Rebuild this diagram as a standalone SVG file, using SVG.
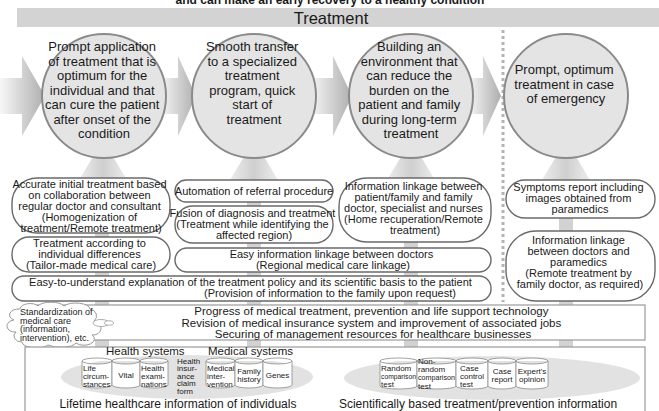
<svg xmlns="http://www.w3.org/2000/svg" width="659" height="411" viewBox="0 0 659 411">
  <style>
    text { font-family: "Liberation Sans", Arial, sans-serif; fill: #1a1a1a; }
    .ct { font-size: 13px; text-anchor: middle; }
    .bt { font-size: 11px; text-anchor: middle; }
    .rt { font-size: 11.5px; text-anchor: middle; }
    .cyl { font-size: 8px; }
    .circle { fill: #e4e4e4; stroke: #8a8a8a; stroke-width: 2; }
    .box { fill: #ffffff; stroke: #6a6a6a; stroke-width: 1.4; }
    .shaft { fill: #d2d2d2; }
    .can { fill: #ffffff; stroke: #8a8a8a; stroke-width: 0.8; }
  </style>
  <defs>
    <linearGradient id="flow" x1="0" y1="0" x2="1" y2="0">
      <stop offset="0" stop-color="#f7f7f7"/>
      <stop offset="1" stop-color="#aeaeae"/>
    </linearGradient>
    <linearGradient id="upHead" x1="0" y1="0" x2="1" y2="0">
      <stop offset="0" stop-color="#ececec"/>
      <stop offset="0.5" stop-color="#cfcfcf"/>
      <stop offset="1" stop-color="#ececec"/>
    </linearGradient>
  </defs>

  <!-- heading line (runs off the top edge) -->
  <text x="330" y="4" font-size="12" font-weight="bold" text-anchor="middle">and can make an early recovery to a healthy condition</text>

  <!-- Treatment band -->
  <g id="treatment-band">
    <rect x="17" y="8" width="642" height="19" fill="#d3d3d3"/>
    <text x="331" y="23.5" font-size="16.5" text-anchor="middle">Treatment</text>
  </g>

  <!-- emergency separator -->
  <line x1="503" y1="30" x2="503" y2="302" stroke="#b4b4b4" stroke-width="3" stroke-dasharray="3,3"/>

  <!-- connectors: flow arrows and supporting up-arrows -->
  <g id="connectors">
    <polygon fill="url(#flow)" points="0,78 22,78 22,56 45,96 22,136 22,114 0,114"/>
    <polygon fill="url(#flow)" points="160,78 178,78 178,56 196,96 178,136 178,114 160,114"/>
    <polygon fill="url(#flow)" points="310,78 333,78 333,56 352,96 333,136 333,114 310,114"/>
    <polygon fill="url(#flow)" points="468,78 483,78 483,56 501,96 483,136 483,114 468,114"/>

    <rect class="shaft" x="95" y="176" width="14" height="172"/>
    <rect class="shaft" x="247" y="176" width="14" height="172"/>
    <rect class="shaft" x="404" y="176" width="14" height="172"/>
    <rect class="shaft" x="559" y="176" width="14" height="172"/>
    <polygon fill="url(#upHead)" points="79,180 103,140 127,180"/>
    <polygon fill="url(#upHead)" points="230,180 254,140 278,180"/>
    <polygon fill="url(#upHead)" points="387,180 411,140 435,180"/>
    <polygon fill="url(#upHead)" points="542,180 566,140 590,180"/>
  </g>

  <!-- goal circles -->
  <g id="goal-1">
    <circle class="circle" cx="104" cy="96" r="62"/>
    <text class="ct" x="104" y="51">Prompt application
      <tspan x="104" dy="14.5">of treatment that is</tspan>
      <tspan x="104" dy="14.5">optimum for the</tspan>
      <tspan x="104" dy="14.5">individual and that</tspan>
      <tspan x="104" dy="14.5">can cure the patient</tspan>
      <tspan x="104" dy="14.5">after onset of the</tspan>
      <tspan x="104" dy="14.5">condition</tspan></text>
  </g>
  <g id="goal-2">
    <circle class="circle" cx="254" cy="96" r="62"/>
    <text class="ct" x="254" y="51">Smooth transfer
      <tspan x="254" dy="14.5">to a specialized</tspan>
      <tspan x="254" dy="14.5">treatment</tspan>
      <tspan x="254" dy="14.5">program, quick</tspan>
      <tspan x="254" dy="14.5">start of</tspan>
      <tspan x="254" dy="14.5">treatment</tspan></text>
  </g>
  <g id="goal-3">
    <circle class="circle" cx="411" cy="96" r="62"/>
    <text class="ct" x="411" y="51">Building an
      <tspan x="411" dy="14.5">environment that</tspan>
      <tspan x="411" dy="14.5">can reduce the</tspan>
      <tspan x="411" dy="14.5">burden on the</tspan>
      <tspan x="411" dy="14.5">patient and family</tspan>
      <tspan x="411" dy="14.5">during long-term</tspan>
      <tspan x="411" dy="14.5">treatment</tspan></text>
  </g>
  <g id="goal-4">
    <circle class="circle" cx="566" cy="96" r="62"/>
    <text class="ct" x="566" y="74">Prompt, optimum
      <tspan x="566" dy="14.5">treatment in case</tspan>
      <tspan x="566" dy="14.5">of emergency</tspan></text>
  </g>

  <!-- measures -->
  <g id="accurate-initial">
    <rect class="box" x="12" y="178" width="158" height="55" rx="25"/>
    <text class="bt" x="91" y="188">Accurate initial treatment based
      <tspan x="91" dy="11">on collaboration between</tspan>
      <tspan x="91" dy="11">regular doctor and consultant</tspan>
      <tspan x="91" dy="11">(Homogenization of</tspan>
      <tspan x="91" dy="11">treatment/Remote treatment)</tspan></text>
  </g>
  <g id="tailor-made">
    <rect class="box" x="12" y="237" width="158" height="35" rx="17"/>
    <text class="bt" x="91" y="247">Treatment according to
      <tspan x="91" dy="11">individual differences</tspan>
      <tspan x="91" dy="11">(Tailor-made medical care)</tspan></text>
  </g>
  <g id="referral">
    <rect class="box" x="175" y="180" width="158" height="22" rx="11"/>
    <text class="bt" x="254" y="195">Automation of referral procedure</text>
  </g>
  <g id="fusion">
    <rect class="box" x="175" y="206" width="158" height="37" rx="18"/>
    <text class="bt" x="254" y="217">Fusion of diagnosis and treatment
      <tspan x="254" dy="11">(Treatment while identifying the</tspan>
      <tspan x="254" dy="11">affected region)</tspan></text>
  </g>
  <g id="regional-linkage">
    <rect class="box" x="175" y="248" width="316" height="24" rx="12"/>
    <text class="bt" x="333" y="258">Easy information linkage between doctors
      <tspan x="333" dy="11">(Regional medical care linkage)</tspan></text>
  </g>
  <g id="home-linkage">
    <rect class="box" x="339" y="178" width="152" height="64" rx="28"/>
    <text class="bt" x="415" y="190">Information linkage between
      <tspan x="415" dy="11">patient/family and family</tspan>
      <tspan x="415" dy="11">doctor, specialist and nurses</tspan>
      <tspan x="415" dy="11">(Home recuperation/Remote</tspan>
      <tspan x="415" dy="11">treatment)</tspan></text>
  </g>
  <g id="explanation">
    <rect class="box" x="12" y="276" width="479" height="25" rx="12"/>
    <text class="bt" x="252" y="286">Easy-to-understand explanation of the treatment policy and its scientific basis to the patient
      <tspan x="330" dy="11">(Provision of information to the family upon request)</tspan></text>
  </g>
  <g id="symptoms-report">
    <rect class="box" x="506" y="180" width="149" height="38" rx="19"/>
    <text class="bt" x="580" y="191">Symptoms report including
      <tspan x="580" dy="11">images obtained from</tspan>
      <tspan x="580" dy="11">paramedics</tspan></text>
  </g>
  <g id="paramedic-linkage">
    <rect class="box" x="506" y="231" width="149" height="70" rx="30"/>
    <text class="bt" x="580" y="244">Information linkage
      <tspan x="580" dy="11">between doctors and</tspan>
      <tspan x="580" dy="11">paramedics</tspan>
      <tspan x="580" dy="11">(Remote treatment by</tspan>
      <tspan x="580" dy="11">family doctor, as required)</tspan></text>
  </g>

  <!-- infrastructure -->
  <g id="infrastructure">
    <rect x="25" y="305" width="620" height="35" fill="#ffffff" stroke="#9a9a9a" stroke-width="1.2"/>
    <text class="rt" x="373" y="315">Progress of medical treatment, prevention and life support technology
      <tspan x="373" dy="11.5">Revision of medical insurance system and improvement of associated jobs</tspan>
      <tspan x="373" dy="11.5">Securing of management resources for healthcare businesses</tspan></text>
  </g>

  <g id="standardization">
    <path d="M20,309 a10,6 0 0,1 18,-3 a14,6 0 0,1 26,0 a14,6 0 0,1 26,3 a8,7 0 0,1 4,12 a8,7 0 0,1 -2,14 a10,6 0 0,1 -16,8 a16,6 0 0,1 -28,2 a14,6 0 0,1 -26,-3 a8,6 0 0,1 -6,-10 a8,6 0 0,1 -2,-12 a10,6 0 0,1 6,-11 z" fill="#ffffff" stroke="#9a9a9a" stroke-width="1"/>
    <ellipse cx="101" cy="323" rx="8" ry="3.5" fill="#ffffff" stroke="#9a9a9a" stroke-width="0.8"/>
    <ellipse cx="109" cy="323" rx="4.5" ry="2.2" fill="#ffffff" stroke="#9a9a9a" stroke-width="0.8"/>
    <text font-size="9" x="20" y="315">Standardization of
      <tspan x="20" dy="8.6">medical care</tspan>
      <tspan x="20" dy="8.6">(information,</tspan>
      <tspan x="20" dy="8.6">intervention), etc.</tspan></text>
  </g>

  <!-- information bases -->
  <g id="information-bases">
    <rect x="25" y="347" width="620" height="70" fill="#ffffff" stroke="#9a9a9a" stroke-width="1.2"/>
    <ellipse cx="187" cy="377" rx="126" ry="22" fill="#e2e2e2"/>
    <ellipse cx="492" cy="378" rx="148" ry="22" fill="#e2e2e2"/>
  </g>

  <g id="lifetime-info">
    <text font-size="11.5" x="106" y="355">Health systems</text>
    <text font-size="11.5" x="208" y="355">Medical systems</text>
    <g id="can-life">
      <path class="can" d="M82,361 a15,3 0 0,1 30,0 v24 a15,3 0 0,1 -30,0 z M82,361 a15,3 0 0,0 30,0"/>
      <text class="cyl" x="83" y="371">Life<tspan x="83" dy="8.2">circum-</tspan><tspan x="83" dy="8.2">stances</tspan></text>
    </g>
    <g id="can-vital">
      <path class="can" d="M112,361 a14,3 0 0,1 28,0 v24 a14,3 0 0,1 -28,0 z M112,361 a14,3 0 0,0 28,0"/>
      <text class="cyl" x="126" y="378" text-anchor="middle">Vital</text>
    </g>
    <g id="can-exams">
      <path class="can" d="M140,361 a14,3 0 0,1 28,0 v24 a14,3 0 0,1 -28,0 z M140,361 a14,3 0 0,0 28,0"/>
      <text class="cyl" x="141" y="371">Health<tspan x="141" dy="8.2">exami-</tspan><tspan x="141" dy="8.2">nations</tspan></text>
    </g>
    <g id="can-claim">
      <text class="cyl" x="177" y="363.5">Health<tspan x="177" dy="7.6">insur-</tspan><tspan x="177" dy="7.6">ance</tspan><tspan x="177" dy="7.6">claim</tspan><tspan x="177" dy="7.6">form</tspan></text>
    </g>
    <g id="can-intervention">
      <path class="can" d="M206,361 a14.5,3 0 0,1 29,0 v24 a14.5,3 0 0,1 -29,0 z M206,361 a14.5,3 0 0,0 29,0"/>
      <text class="cyl" x="207" y="371">Medical<tspan x="207" dy="8.2">inter-</tspan><tspan x="207" dy="8.2">vention</tspan></text>
    </g>
    <g id="can-family">
      <path class="can" d="M235,361 a14,3 0 0,1 28,0 v24 a14,3 0 0,1 -28,0 z M235,361 a14,3 0 0,0 28,0"/>
      <text class="cyl" x="249" y="374" text-anchor="middle">Family<tspan x="249" dy="8.2">history</tspan></text>
    </g>
    <g id="can-genes">
      <path class="can" d="M263,361 a14.5,3 0 0,1 29,0 v24 a14.5,3 0 0,1 -29,0 z M263,361 a14.5,3 0 0,0 29,0"/>
      <text class="cyl" x="277.5" y="378" text-anchor="middle">Genes</text>
    </g>
    <text font-size="12" x="178" y="408" text-anchor="middle">Lifetime healthcare information of individuals</text>
  </g>

  <g id="evidence-info">
    <g id="can-random">
      <path class="can" d="M380,361 a18.5,3 0 0,1 37,0 v25 a18.5,3 0 0,1 -37,0 z M380,361 a18.5,3 0 0,0 37,0"/>
      <text class="cyl" x="381" y="371">Random<tspan x="381" dy="8.2" textLength="35" lengthAdjust="spacingAndGlyphs">comparison</tspan><tspan x="381" dy="8.2">test</tspan></text>
    </g>
    <g id="can-nonrandom">
      <path class="can" d="M417,361 a19.5,3 0 0,1 39,0 v25 a19.5,3 0 0,1 -39,0 z M417,361 a19.5,3 0 0,0 39,0"/>
      <text class="cyl" x="418" y="364">Non-<tspan x="418" dy="8.2">random</tspan><tspan x="418" dy="8.2" textLength="37" lengthAdjust="spacingAndGlyphs">comparison</tspan><tspan x="418" dy="8.2">test</tspan></text>
    </g>
    <g id="can-case-control">
      <path class="can" d="M456,361 a16,3 0 0,1 32,0 v25 a16,3 0 0,1 -32,0 z M456,361 a16,3 0 0,0 32,0"/>
      <text class="cyl" x="460" y="371">Case<tspan x="460" dy="8.2">control</tspan><tspan x="460" dy="8.2">test</tspan></text>
    </g>
    <g id="can-case-report">
      <path class="can" d="M488,361 a14,3 0 0,1 28,0 v25 a14,3 0 0,1 -28,0 z M488,361 a14,3 0 0,0 28,0"/>
      <text class="cyl" x="502" y="374" text-anchor="middle">Case<tspan x="502" dy="8.2">report</tspan></text>
    </g>
    <g id="can-expert">
      <path class="can" d="M516,361 a16,3 0 0,1 32,0 v25 a16,3 0 0,1 -32,0 z M516,361 a16,3 0 0,0 32,0"/>
      <text class="cyl" x="532" y="374" text-anchor="middle">Expert's<tspan x="532" dy="8.2">opinion</tspan></text>
    </g>
    <text font-size="12" x="478" y="408" text-anchor="middle">Scientifically based treatment/prevention information</text>
  </g>
</svg>
